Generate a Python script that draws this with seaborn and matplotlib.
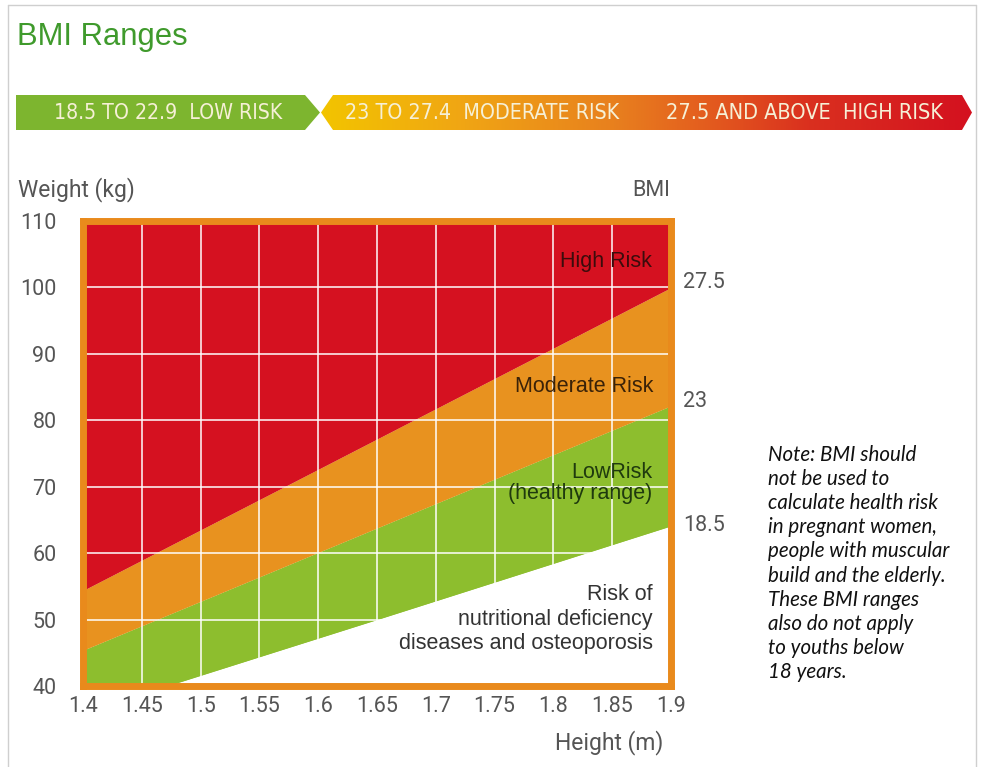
import numpy as np
import pandas as pd
import matplotlib
matplotlib.use("Agg")
import matplotlib.pyplot as plt
import seaborn as sns
from matplotlib.patches import Polygon
from matplotlib.colors import LinearSegmentedColormap

# ---------------- data ----------------
heights = [1.4, 1.65, 1.9]                 # m
limit_18_5 = [36.0, 50.0, 64.1]            # kg, lower edge of low-risk band
limit_23 = [45.4, 63.8, 82.2]              # kg, lower edge of moderate band
limit_27_5 = [54.4, 77.2, 100.0]           # kg, lower edge of high-risk band
bmi_cutoffs = ["18.5", "23", "27.5"]

x_ticks = [1.4, 1.45, 1.5, 1.55, 1.6, 1.65, 1.7, 1.75, 1.8, 1.85, 1.9]
x_tick_labels = ["1.4", "1.45", "1.5", "1.55", "1.6", "1.65", "1.7", "1.75", "1.8", "1.85", "1.9"]
y_ticks = [40, 50, 60, 70, 80, 90, 100, 110]

banner_labels = ["18.5 TO 22.9  LOW RISK", "23 TO 27.4  MODERATE RISK", "27.5 AND ABOVE  HIGH RISK"]
zone_high = ["High Risk"]
zone_moderate = ["Moderate Risk"]
zone_low = ["LowRisk", "(healthy range)"]
zone_under = ["Risk of", "nutritional deficiency", "diseases and osteoporosis"]
note_lines = ["Note: BMI should", "not be used to", "calculate health risk",
              "in pregnant women,", "people with muscular", "build and the elderly.",
              "These BMI ranges", "also do not apply", "to youths below", "18 years."]

df = pd.DataFrame({"height": heights, "w18": limit_18_5, "w23": limit_23, "w275": limit_27_5})

# ---------------- style ----------------
sns.set_theme(style="white")
plt.rcParams["font.family"] = ["Liberation Sans", "DejaVu Sans"]

RED = "#D51120"
ORANGE = "#E8921F"
GREEN = "#8DBE2E"
BORDER = "#E98A1C"
GREY = "#555555"
TICKFONT = ["Roboto", "DejaVu Sans"]

W, H = 981, 767
fig = plt.figure(figsize=(W / 100, H / 100), dpi=100)

def fp(x, y):
    return (x / W, 1 - y / H)

# background axes in pixel coordinates (banner + frame)
bg = fig.add_axes([0, 0, 1, 1], zorder=0)
bg.set_xlim(0, W)
bg.set_ylim(H, 0)
bg.axis("off")

# page frame
bg.plot([7.5, 7.5], [5, H], color="#cfcfcf", lw=1.0)
bg.plot([7.5, 976], [5, 5], color="#cfcfcf", lw=1.0)
bg.plot([976, 976], [5, H], color="#cfcfcf", lw=1.0)

# title
title = fig.text(*fp(17, 37), "BMI Ranges", color="#3F9A2C", fontsize=22, va="center", ha="left",
                 family=["Liberation Sans"])

# banner: green arrow
green_poly = Polygon([(16, 95), (305, 95), (320, 112.5), (305, 130), (16, 130)],
                     closed=True, facecolor="#7DB52F", edgecolor="none")
bg.add_patch(green_poly)
# banner: gradient arrow
grad_poly = Polygon([(333, 95), (962, 95), (972, 112.5), (962, 130), (333, 130), (321, 112.5)],
                    closed=True, facecolor="none", edgecolor="none")
bg.add_patch(grad_poly)
cmap = LinearSegmentedColormap.from_list(
    "bmi_grad",
    [(0.0, "#F3C400"), (0.22, "#F0A514"), (0.45, "#E8801E"), (0.58, "#E4601E"),
     (0.75, "#DA301F"), (1.0, "#D4111F")])
grad = np.linspace(0, 1, 512).reshape(1, -1)
im = bg.imshow(grad, cmap=cmap, extent=[321, 972, 130, 95], aspect="auto", interpolation="bilinear")
im.set_clip_path(grad_poly)

banner_spans = [(53, 283), (344, 620), (665, 945)]
banner_texts = []
for lab, (x0, x1) in zip(banner_labels, banner_spans):
    t = fig.text(*fp((x0 + x1) / 2, 113), lab, color="#F6F0D6", fontsize=14,
                 ha="center", va="center", family=["DejaVu Sans"], fontstretch="condensed")
    banner_texts.append((t, x1 - x0))

# ---------------- main chart ----------------
ax = fig.add_axes([83 / W, 1 - 686 / H, 588 / W, 465 / H], zorder=1)
ax.set_xlim(1.4, 1.9)
ax.set_ylim(40, 110)
ymax = ax.get_ylim()[1]

ax.fill_between(df["height"], df["w18"], df["w23"], color=GREEN, lw=0, zorder=1)
ax.fill_between(df["height"], df["w23"], df["w275"], color=ORANGE, lw=0, zorder=1)
ax.fill_between(df["height"], df["w275"], ymax, color=RED, lw=0, zorder=1)
sns.lineplot(data=df, x="height", y="w18", ax=ax, color=GREEN, lw=0.6, zorder=1.5)
sns.lineplot(data=df, x="height", y="w23", ax=ax, color=ORANGE, lw=0.6, zorder=1.5)
sns.lineplot(data=df, x="height", y="w275", ax=ax, color=RED, lw=0.6, zorder=1.5)

ax.set_xticks(x_ticks)
ax.set_xticklabels(x_tick_labels)
ax.set_yticks(y_ticks)
ax.set_yticklabels([str(v) for v in y_ticks])
ax.grid(True, color="white", alpha=0.78, lw=1.4, zorder=2)
ax.set_axisbelow(False)
for ln in ax.get_xgridlines() + ax.get_ygridlines():
    ln.set_zorder(2)
ax.set_xlabel("")
ax.set_ylabel("")
ax.tick_params(axis="both", length=0, colors=GREY, labelsize=15.5)
ax.tick_params(axis="y", pad=19)
ax.tick_params(axis="x", pad=7)
for lbl in ax.get_xticklabels() + ax.get_yticklabels():
    lbl.set_family(TICKFONT)
    lbl.set_color(GREY)
for s in ax.spines.values():
    s.set_visible(True)
    s.set_color(BORDER)
    s.set_linewidth(5.0)
    s.set_zorder(5)

# zone labels (right aligned inside the plot)
def put_lines(lines, x_px, y_px_first, step, color, size=15.5):
    for i, line in enumerate(lines):
        fig.text(*fp(x_px, y_px_first + i * step), line, color=color, fontsize=size,
                 ha="right", va="center", zorder=10,
                 family=["Liberation Sans", "DejaVu Sans"])

put_lines(zone_high, 652, 262, 0, "#3C0C0C")
put_lines(zone_moderate, 653, 387, 0, "#3A2208")
put_lines(zone_low, 652, 472, 22, "#1F3A0E")
put_lines(zone_under, 653, 594, 25, "#333333")

# BMI cut-off labels at the right end of each boundary
ends = [df["w18"].iloc[-1], df["w23"].iloc[-1], df["w275"].iloc[-1]]
offs = [0.0, 0.6, 0.8]
for lab, yv, o in zip(bmi_cutoffs, ends, offs):
    ax.annotate(lab, xy=(1.0, yv + o), xycoords=("axes fraction", "data"),
                xytext=(12, 0), textcoords="offset pixels", ha="left", va="center",
                color=GREY, fontsize=15.5, family=TICKFONT, annotation_clip=False)

# axis titles
fig.text(*fp(18, 190), "Weight (kg)", color=GREY, fontsize=16.5, ha="left", va="center",
         family=TICKFONT)
fig.text(*fp(670, 190), "BMI", color=GREY, fontsize=15.5, ha="right", va="center",
         family=TICKFONT)
fig.text(*fp(663, 743), "Height (m)", color=GREY, fontsize=16.5, ha="right", va="center",
         family=TICKFONT)

# note
note_texts = []
for i, line in enumerate(note_lines):
    t = fig.text(*fp(768, 455 + i * 24.1), line, color="#111111", fontsize=12.5,
                 ha="left", va="center", style="italic", family=["Lato", "DejaVu Sans"])
    note_texts.append(t)

# fit banner / note / title text widths to the reference
fig.canvas.draw()
r = fig.canvas.get_renderer()
for t, target in banner_texts:
    w = t.get_window_extent(r).width
    t.set_fontsize(t.get_fontsize() * target / w)
w_long = note_texts[4].get_window_extent(r).width
scale = 182.0 / w_long
for t in note_texts:
    t.set_fontsize(t.get_fontsize() * scale)
wt = title.get_window_extent(r).width
title.set_fontsize(title.get_fontsize() * 170.0 / wt)

fig.savefig("out.png", dpi=100)
